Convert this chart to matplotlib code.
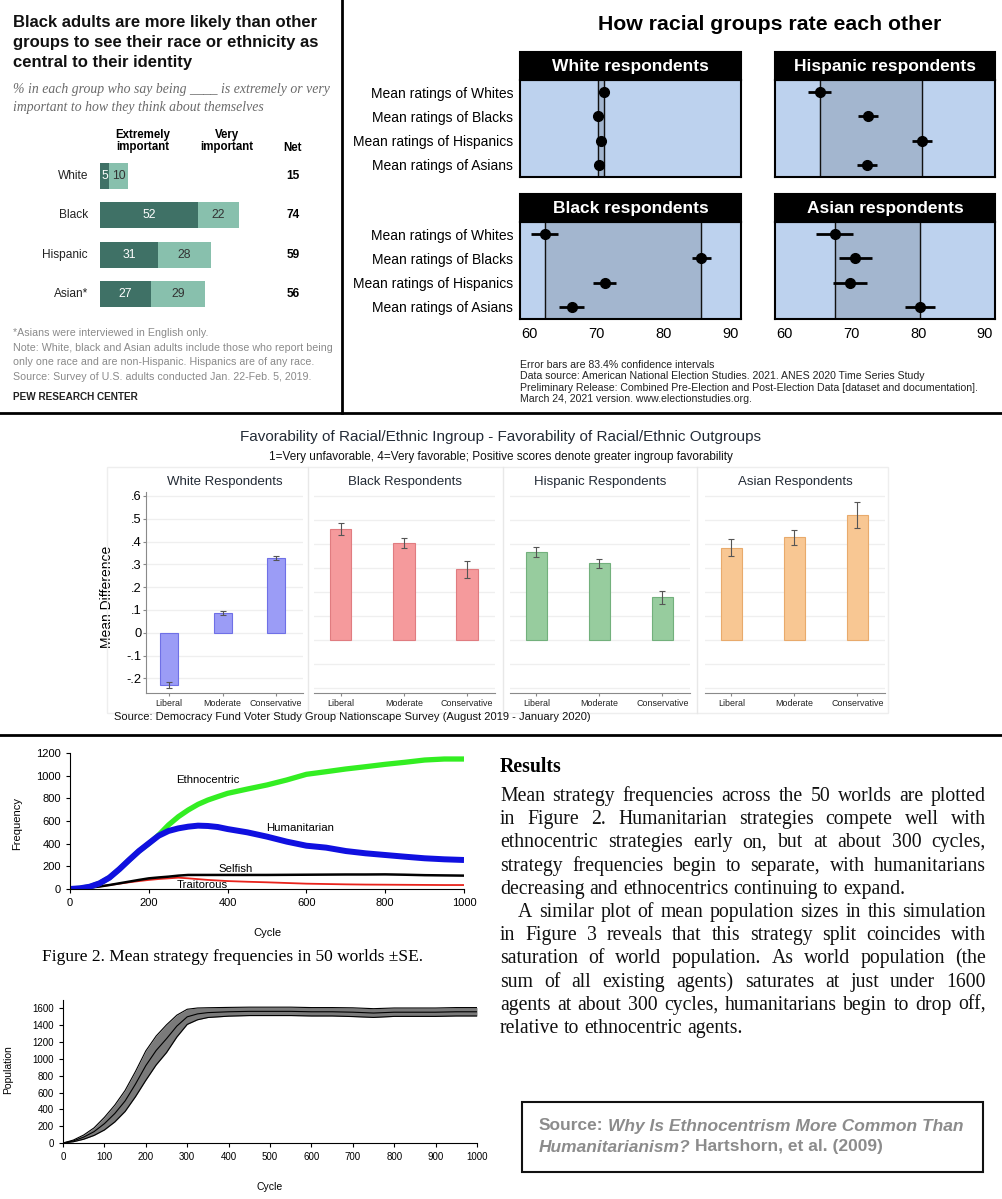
import numpy as np
import matplotlib.pyplot as plt
from matplotlib.patches import Rectangle
from matplotlib.lines import Line2D

plt.rcParams['font.family'] = ['Liberation Sans', 'DejaVu Sans']

# ---------------- data ----------------
# Pew: race / ethnicity central to identity
pew_groups = ['White', 'Black', 'Hispanic', 'Asian*']
pew_extremely = [5, 52, 31, 27]
pew_very = [10, 22, 28, 29]
pew_net = [15, 74, 59, 56]

# ANES 2020 mean thermometer ratings (83.4% CI half widths)
rated_groups = ['Mean ratings of Whites', 'Mean ratings of Blacks',
                'Mean ratings of Hispanics', 'Mean ratings of Asians']
anes_white = [71.1, 70.2, 70.6, 70.3]
anes_white_ci = [0.4, 0.4, 0.4, 0.4]
anes_hispanic = [65.3, 72.5, 80.6, 72.4]
anes_hispanic_ci = [1.7, 1.5, 1.5, 1.5]
anes_black = [62.3, 85.6, 71.2, 66.3]
anes_black_ci = [2.0, 1.4, 1.7, 1.9]
anes_asian = [67.5, 70.6, 69.8, 80.3]
anes_asian_ci = [2.8, 2.5, 2.5, 2.2]

# Nationscape ingroup - outgroup favorability
ideology = ['Liberal', 'Moderate', 'Conservative']
ns_white = [-0.228, 0.088, 0.326]
ns_white_ci = [0.012, 0.009, 0.009]
ns_black = [0.462, 0.403, 0.294]
ns_black_ci = [0.024, 0.021, 0.037]
ns_hispanic = [0.367, 0.319, 0.178]
ns_hispanic_ci = [0.020, 0.017, 0.028]
ns_asian = [0.385, 0.428, 0.521]
ns_asian_ci = [0.036, 0.031, 0.053]

# Hartshorn et al. strategy frequencies
cycle = [0, 25, 50, 75, 100, 125, 150, 175, 200, 225, 250, 275, 300, 325, 350, 375, 400,
         450, 500, 550, 600, 650, 700, 750, 800, 850, 900, 950, 1000]
ethnocentric = [0, 6, 20, 50, 100, 174, 256, 335, 400, 476, 565, 638, 697, 747, 785, 815, 844,
                882, 918, 962, 1012, 1035, 1059, 1079, 1100, 1118, 1138, 1147, 1147]
humanitarian = [0, 6, 20, 50, 100, 174, 256, 335, 403, 470, 512, 535, 550, 559, 556, 547, 529,
                500, 462, 418, 382, 365, 335, 315, 300, 285, 271, 262, 256]
selfish = [0, 4, 12, 22, 35, 50, 65, 80, 94, 102, 109, 118, 124, 124, 124, 124, 124,
           124, 124, 125, 126, 127, 128, 128, 129, 126, 122, 120, 118]
traitorous = [0, 4, 12, 22, 35, 47, 59, 70, 80, 88, 94, 100, 94, 87, 80, 75, 70,
              64, 59, 53, 47, 44, 41, 39, 38, 37, 36, 35, 35]

# population
pop_cycle = [0, 25, 50, 75, 100, 125, 150, 175, 200, 225, 250, 275, 300, 325, 350,
             400, 450, 500, 550, 600, 650, 700, 750, 800, 850, 900, 950, 1000]
pop_mean = [0, 25, 70, 135, 230, 350, 500, 700, 920, 1100, 1240, 1390, 1500, 1535, 1550,
            1560, 1565, 1565, 1565, 1560, 1560, 1555, 1545, 1555, 1555, 1555, 1560, 1560]
pop_se = [0, 10, 25, 45, 75, 100, 125, 150, 175, 172, 165, 130, 90, 70, 58,
          52, 50, 50, 50, 50, 50, 52, 52, 50, 50, 50, 50, 50]

# ---------------- figure ----------------
W, H = 1002, 1199
fig = plt.figure(figsize=(W / 100, H / 100), dpi=100, facecolor='white')


def add_ax(x0, y0, x1, y1):
    return fig.add_axes([x0 / W, 1 - y1 / H, (x1 - x0) / W, (y1 - y0) / H])


def ftext(x, y, s, **kw):
    return fig.text(x / W, 1 - y / H, s, **kw)


def hline(y, x0, x1, **kw):
    fig.add_artist(Line2D([x0 / W, x1 / W], [1 - y / H, 1 - y / H], transform=fig.transFigure, **kw))


def vline(x, y0, y1, **kw):
    fig.add_artist(Line2D([x / W, x / W], [1 - y0 / H, 1 - y1 / H], transform=fig.transFigure, **kw))


# separators
vline(342, 0, 413, color='black', lw=2)
hline(413, 0, W, color='black', lw=2)
hline(735, 0, W, color='black', lw=2)

# ---------------- Pew (top left) ----------------
for i, line in enumerate(['Black adults are more likely than other',
                          'groups to see their race or ethnicity as',
                          'central to their identity']):
    ftext(13, 23 + 20 * i, line, fontsize=12, fontweight='bold', va='center', color='#111111')
ftext(13, 89, '% in each group who say being ____ is extremely or very', family='Liberation Serif',
      style='italic', fontsize=9.9, color='#6a6a6a', va='center')
ftext(13, 107, 'important to how they think about themselves', family='Liberation Serif',
      style='italic', fontsize=9.9, color='#6a6a6a', va='center')
ftext(143, 141, 'Extremely\nimportant', fontsize=8.3, fontweight='bold', ha='center', va='center', linespacing=1.1)
ftext(227, 141, 'Very\nimportant', fontsize=8.3, fontweight='bold', ha='center', va='center', linespacing=1.1)
ftext(293, 148, 'Net', fontsize=8.3, fontweight='bold', ha='center', va='center')

px_per = 1.878
ax = add_ax(100, 156.5, 100 + 100 * px_per, 313.5)
y = np.arange(len(pew_groups))
dark, light = '#3f7166', '#88c0ad'
ax.barh(y, pew_extremely, height=0.66, color=dark)
ax.barh(y, pew_very, left=pew_extremely, height=0.66, color=light)
for i in range(len(pew_groups)):
    ax.text(pew_extremely[i] / 2, i, str(pew_extremely[i]), ha='center', va='center', color='white', fontsize=8.8)
    ax.text(pew_extremely[i] + pew_very[i] / 2, i, str(pew_very[i]), ha='center', va='center',
            color='#333333', fontsize=8.8)
    ax.text(-12 / px_per, i, pew_groups[i], ha='right', va='center', fontsize=8.6, color='#222222')
    ax.text(193 / px_per, i, str(pew_net[i]), ha='center', va='center', fontsize=8.6, fontweight='bold')
ax.set_xlim(0, 100)
ax.set_ylim(3.5, -0.5)
ax.axis('off')

for i, line in enumerate(['*Asians were interviewed in English only.',
                          'Note: White, black and Asian adults include those who report being',
                          'only one race and are non-Hispanic. Hispanics are of any race.',
                          'Source: Survey of U.S. adults conducted Jan. 22-Feb. 5, 2019.']):
    ftext(13, 333 + 14.7 * i, line, fontsize=7.65, color='#8a8a8a', va='center')
ftext(13, 397, 'PEW RESEARCH CENTER', fontsize=7.2, fontweight='bold', va='center', color='#222222')

# ---------------- ANES (top right) ----------------
ftext(770, 25, 'How racial groups rate each other', fontsize=15.3, fontweight='bold', ha='center', va='center')
panels = [('White respondents', anes_white, anes_white_ci, (520, 80, 741, 177), True, False),
          ('Hispanic respondents', anes_hispanic, anes_hispanic_ci, (775, 80, 995, 177), False, False),
          ('Black respondents', anes_black, anes_black_ci, (520, 222, 741, 319), True, True),
          ('Asian respondents', anes_asian, anes_asian_ci, (775, 222, 995, 319), False, True)]
rows = np.arange(1, 5)
for name, vals, ci, box, left, bottom in panels:
    ax = add_ax(*box)
    ax.set_facecolor('#bdd2ee')
    lo, hi = min(vals), max(vals)
    ax.axvspan(lo, hi, color='#a3b6cf')
    ax.axvline(lo, color='#111111', lw=1)
    ax.axvline(hi, color='#111111', lw=1)
    ax.errorbar(vals, rows, xerr=ci, fmt='o', color='black', ms=7, elinewidth=2, capsize=0)
    ax.set_xlim(58.6, 91.5)
    ax.set_ylim(4.5, 0.5)
    for s in ax.spines.values():
        s.set_linewidth(1.5)
    hh = 28 / (box[3] - box[1])
    ax.add_patch(Rectangle((0, 1), 1, hh, transform=ax.transAxes, clip_on=False,
                           facecolor='black', edgecolor='black', lw=1.5))
    ax.text(0.5, 1 + hh / 2, name, transform=ax.transAxes, ha='center', va='center',
            color='white', fontsize=12.5, fontweight='bold')
    if left:
        ax.set_yticks(rows)
        ax.set_yticklabels(rated_groups, fontsize=10)
        ax.tick_params(axis='y', length=0, pad=5)
    else:
        ax.set_yticks([])
    if bottom:
        ax.set_xticks([60, 70, 80, 90])
        ax.tick_params(axis='x', length=0, labelsize=10.5, pad=6)
    else:
        ax.set_xticks([])

for i, line in enumerate(['Error bars are 83.4% confidence intervals',
                          'Data source: American National Election Studies. 2021. ANES 2020 Time Series Study',
                          'Preliminary Release: Combined Pre-Election and Post-Election Data [dataset and documentation].',
                          'March 24, 2021 version. www.electionstudies.org.']):
    ftext(520, 365 + 11.4 * i, line, fontsize=7.6, va='center', color='#222222')

# ---------------- Nationscape (middle) ----------------
navy = '#232b36'
fig.add_artist(Rectangle((107 / W, 1 - 713 / H), (888 - 107) / W, (713 - 467) / H, transform=fig.transFigure,
                         fill=False, edgecolor='#eeeeee', lw=1))
for xs in [308, 503, 697]:
    vline(xs, 467, 713, color='#e8e8e8', lw=1)
ftext(501, 437, 'Favorability of Racial/Ethnic Ingroup - Favorability of Racial/Ethnic Outgroups',
      fontsize=11, ha='center', va='center', color=navy)
ftext(501, 457, '1=Very unfavorable, 4=Very favorable; Positive scores denote greater ingroup favorability',
      fontsize=8.5, ha='center', va='center', color='#111111')
ftext(114, 717, 'Source: Democracy Fund Voter Study Group Nationscape Survey (August 2019 - January 2020)',
      fontsize=8, va='center', color='#111111')

ns_panels = [('White Respondents', ns_white, ns_white_ci, (146, 303), '#9b9cf6', '#6f70e6', (-0.264, 0.617), (0.567, 3.5)),
             ('Black Respondents', ns_black, ns_black_ci, (314, 495), '#f59a9c', '#e07c80', (-0.221, 0.617), (0.58, 3.44)),
             ('Hispanic Respondents', ns_hispanic, ns_hispanic_ci, (510, 690), '#97cc9e', '#72b07c', (-0.221, 0.617), (0.58, 3.44)),
             ('Asian Respondents', ns_asian, ns_asian_ci, (705, 885), '#f8c793', '#e8aa6c', (-0.221, 0.617), (0.58, 3.44))]
xpos = np.arange(1, 4)
for k, (name, vals, ci, (x0, x1), fc, ec, ylim, xlim) in enumerate(ns_panels):
    ax = add_ax(x0, 492, x1, 693)
    grid = np.arange(-0.2, 0.61, 0.1)
    for g in grid:
        if ylim[0] < g < ylim[1]:
            ax.axhline(g, color='#efefef', lw=0.9, zorder=0)
    ax.bar(xpos, vals, width=0.34, color=fc, edgecolor=ec, lw=0.8, zorder=2)
    ax.errorbar(xpos, vals, yerr=ci, fmt='none', ecolor='#555555', elinewidth=0.8, capsize=2, capthick=0.8, zorder=3)
    ax.set_xlim(*xlim)
    ax.set_ylim(*ylim)
    ax.set_xticks(xpos)
    ax.set_xticklabels(ideology, fontsize=6.4, color='#222222')
    ax.tick_params(axis='x', length=2.5, color='#888888', pad=2)
    for s in ['top', 'right']:
        ax.spines[s].set_visible(False)
    ax.spines['bottom'].set_color('#8a8a8a')
    if k == 0:
        ax.spines['left'].set_color('#8a8a8a')
        ax.set_yticks(np.round(np.arange(-0.2, 0.61, 0.1), 1))
        ax.set_yticklabels(['-.2', '-.1', '0', '.1', '.2', '.3', '.4', '.5', '.6'], fontsize=9.3)
        ax.tick_params(axis='y', length=2.5, color='#888888', pad=0.8)
        ax.set_ylabel('Mean Difference', fontsize=10)
        ax.yaxis.set_label_coords(-0.205, 0.478)
    else:
        ax.spines['left'].set_visible(False)
        ax.set_yticks([])
    ftext((x0 + x1) / 2, 482, name, fontsize=9.5, ha='center', va='center', color=navy)

# ---------------- Figure 2 (strategy frequencies) ----------------
ax = add_ax(70, 753, 464, 889)
ax.plot(cycle, traitorous, color='#e8241c', lw=1.3)
ax.plot(cycle, selfish, color='black', lw=1.8)
ax.plot(cycle, ethnocentric, color='#33ee22', lw=3.8, solid_capstyle='butt')
ax.plot(cycle, humanitarian, color='#1010e0', lw=4.3, solid_capstyle='butt')
ax.set_xlim(0, 1000)
ax.set_ylim(0, 1200)
ax.set_xticks(range(0, 1001, 200))
ax.set_yticks(range(0, 1201, 200))
ax.tick_params(labelsize=8, length=3, direction='out')
for s in ['top', 'right']:
    ax.spines[s].set_visible(False)
ax.set_xlabel('Cycle', fontsize=8)
ax.set_ylabel('Frequency', fontsize=8)
ax.xaxis.set_label_coords(0.5, -0.287)
ax.yaxis.set_label_coords(-0.122, 0.485)
ax.text(269, 962, 'Ethnocentric', fontsize=8.2, va='center')
ax.text(497, 538, 'Humanitarian', fontsize=8.2, va='center')
ax.text(376, 176, 'Selfish', fontsize=8.2, va='center')
ax.text(272, 35, 'Traitorous', fontsize=8.2, va='center')
ftext(233, 957, 'Figure 2. Mean strategy frequencies in 50 worlds \u00b1SE.', family='Liberation Serif',
      fontsize=12.5, ha='center', va='center')

# ---------------- Figure 3 (population) ----------------
ax = add_ax(63, 1000, 477, 1143)
pm = np.array(pop_mean)
ps = np.array(pop_se)
ax.fill_between(pop_cycle, pm - ps, pm + ps, color='#7a7a7a', lw=0)
ax.plot(pop_cycle, pm - ps, color='black', lw=0.8)
ax.plot(pop_cycle, pm + ps, color='black', lw=0.8)
ax.plot(pop_cycle, pm, color='black', lw=0.8)
ax.set_xlim(0, 1000)
ax.set_ylim(0, 1700)
ax.set_xticks(range(0, 1001, 100))
ax.set_yticks(range(0, 1601, 200))
ax.tick_params(labelsize=7, length=3, direction='out')
for s in ['top', 'right']:
    ax.spines[s].set_visible(False)
ax.set_xlabel('Cycle', fontsize=7.5)
ax.set_ylabel('Population', fontsize=7.5)
ax.xaxis.set_label_coords(0.5, -0.27)
ax.yaxis.set_label_coords(-0.121, 0.51)

# ---------------- Results text (bottom right) ----------------
renderer = fig.canvas.get_renderer()
ftext(500, 772, 'Results', family='Liberation Serif', fontweight='bold', fontsize=14.2, va='baseline')

para1 = ['Mean strategy frequencies across the 50 worlds are plotted',
         'in Figure 2. Humanitarian strategies compete well with',
         'ethnocentric strategies early on, but at about 300 cycles,',
         'strategy frequencies begin to separate, with humanitarians',
         'decreasing and ethnocentrics continuing to expand.']
para2 = ['A similar plot of mean population sizes in this simulation',
         'in Figure 3 reveals that this strategy split coincides with',
         'saturation of world population. As world population (the',
         'sum of all existing agents) saturates at just under 1600',
         'agents at about 300 cycles, humanitarians begin to drop off,',
         'relative to ethnocentric agents.']


def justify(line, y, x0, x1, last, **kw):
    words = line.split()
    texts = [ftext(0, y, w, va='baseline', **kw) for w in words]
    widths = [t.get_window_extent(renderer).width for t in texts]
    gap = 5 if last else (x1 - x0 - sum(widths)) / (len(words) - 1)
    x = x0
    for t, w in zip(texts, widths):
        t.set_x(x / W)
        x += w + gap


body = dict(family='Liberation Serif', fontsize=14.2, color='#111111')
yy = 801
for i, line in enumerate(para1):
    justify(line, yy, 500, 986, i == len(para1) - 1, **body)
    yy += 23.2
for i, line in enumerate(para2):
    justify(line, yy, 518 if i == 0 else 500, 986, i == len(para2) - 1, **body)
    yy += 23.2

# source box
fig.add_artist(Rectangle((522 / W, 1 - 1172 / H), (983 - 522) / W, 70 / H, transform=fig.transFigure,
                         fill=False, edgecolor='#111111', lw=1.5))


def pieces(parts, x, y):
    for s, style in parts:
        t = ftext(x, y, s, fontsize=12.5, fontweight='bold', style=style, color='#8c8c8c', va='center')
        x += t.get_window_extent(renderer).width + 4.5


pieces([('Source:', 'normal'), ('Why Is Ethnocentrism More Common Than', 'italic')], 539, 1126)
pieces([('Humanitarianism?', 'italic'), ('Hartshorn, et al. (2009)', 'normal')], 539, 1147)

fig.savefig('out.png', dpi=100, facecolor='white')
